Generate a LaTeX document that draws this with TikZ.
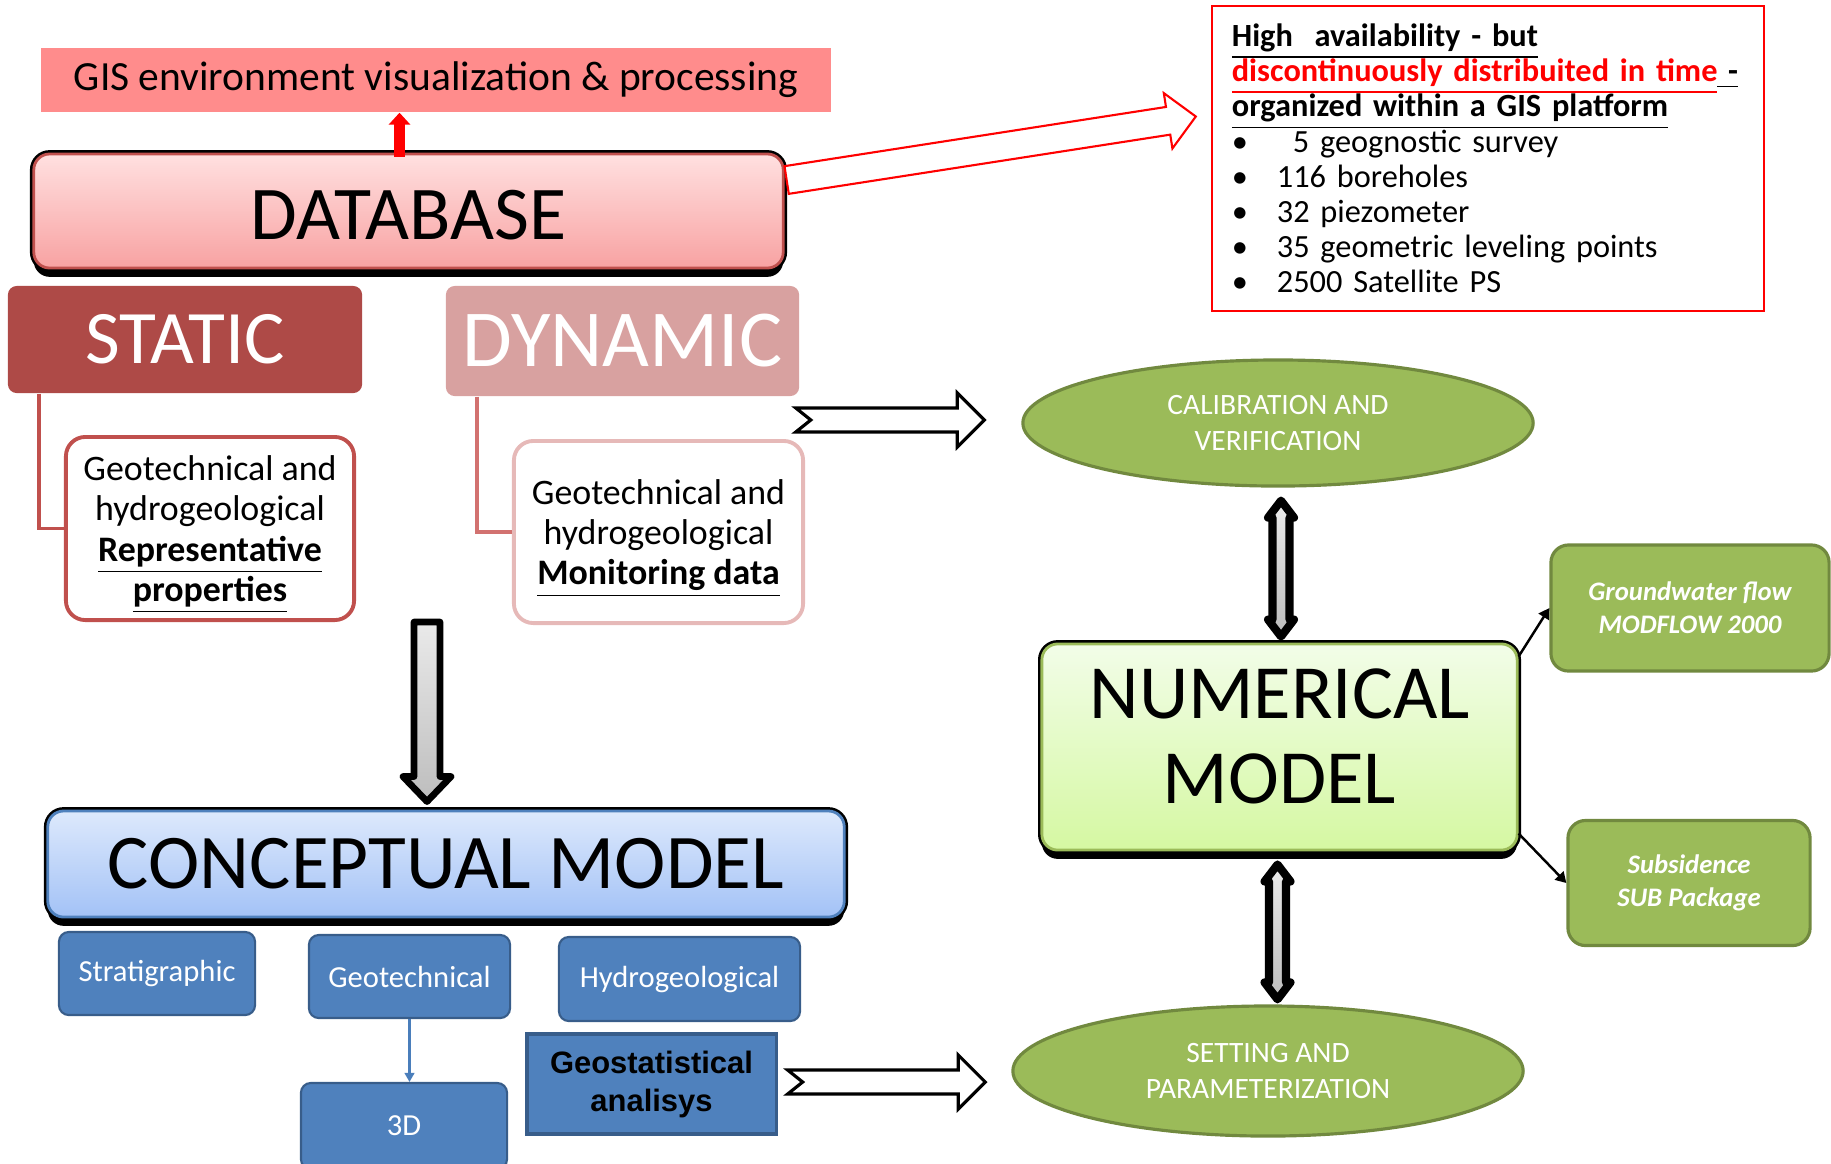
\documentclass[tikz,border=0pt]{standalone}
\usepackage{fontspec}
\setmainfont{Carlito}
\newfontfamily\arialfont{Liberation Sans}
\usetikzlibrary{calc,shapes.geometric,shadows,arrows.meta}

\definecolor{gisred}{HTML}{FF8C8C}
\definecolor{dbtop}{HTML}{FFE0E0}
\definecolor{dbbot}{HTML}{F8A2A2}
\definecolor{redline}{HTML}{C0504D}
\definecolor{staticred}{HTML}{AE4A47}
\definecolor{dynpink}{HTML}{D8A1A0}
\definecolor{dynline}{HTML}{D27270}
\definecolor{dynborder}{HTML}{E6B9B8}
\definecolor{cmtop}{HTML}{DDE9FC}
\definecolor{cmbot}{HTML}{A3C2F6}
\definecolor{cmline}{HTML}{4F81BD}
\definecolor{boxblue}{HTML}{4F81BD}
\definecolor{blueline}{HTML}{385D8A}
\definecolor{arrowblue}{HTML}{4A7EBB}
\definecolor{leaf}{HTML}{9BBB59}
\definecolor{leafline}{HTML}{71893F}
\definecolor{numtop}{HTML}{F2FDE8}
\definecolor{numbot}{HTML}{D5F8A2}
\definecolor{infored}{HTML}{FF0000}
\definecolor{greytop}{HTML}{EAEAEA}
\definecolor{greybot}{HTML}{BDBDBD}

\begin{document}
\begin{tikzpicture}[x=0.01cm,y=-0.01cm,
  gisbox/.style={fill=gisred,inner sep=0pt,minimum width=7.9cm,minimum height=0.64cm,font=\fontsize{11.8}{14}\selectfont},
  bigbox/.style={rounded corners=4.5pt,inner sep=0pt,line width=0.8pt,
    drop shadow={shadow xshift=0pt,shadow yshift=-2.5pt,fill=black,opacity=1},
    preaction={draw=black,line width=2.2pt}},
  headbox/.style={rounded corners=2.5pt,inner sep=0pt,text=white},
  propbox/.style={fill=white,line width=1.1pt,rounded corners=5.5pt,inner sep=0pt,align=center,text depth=0pt,font=\fontsize{10.2}{11.4}\selectfont},
  bluebox/.style={fill=boxblue,draw=blueline,line width=0.6pt,rounded corners=2.8pt,text=white,inner sep=0pt,font=\fontsize{8.7}{10.5}\selectfont},
  leafbox/.style={fill=leaf,draw=leafline,line width=0.9pt,rounded corners=5pt,text=white,inner sep=0pt,align=center,font=\fontsize{7.6}{9.3}\selectfont\bfseries\itshape},
  leafoval/.style={ellipse,fill=leaf,draw=leafline,line width=0.9pt,text=white,inner sep=0pt,align=center,font=\fontsize{8.4}{10}\selectfont},
  infobox/.style={draw=infored,line width=0.6pt,inner xsep=0.2cm,inner ysep=0pt,text width=5.12cm,minimum height=3.05cm,align=left,font=\fontsize{9.2}{10}\selectfont},
  stline/.style={draw=redline,line width=1.1pt},
  dyline/.style={draw=dynline,line width=1.1pt},
  thinarrow/.style={line width=0.7pt,-{Triangle[length=3pt,width=3.4pt]}},
  bluearrow/.style={arrowblue,line width=0.6pt,-{Triangle[length=2.6pt,width=2.8pt]}},
  gisarrow/.style={infored,line width=3.1pt,-{Triangle[length=3.4pt,width=6pt]}},
  redfat/.style={draw=infored,line width=0.6pt,fill=white},
  notched/.style={draw=black,line width=0.9pt,fill=white,
    to path={($(\tikztostart)+(0,-12)$) -- ($(\tikztotarget)+(-27,-12)$) -- ($(\tikztotarget)+(-27,-27)$) -- (\tikztotarget) -- ($(\tikztotarget)+(-27,27)$) -- ($(\tikztotarget)+(-27,12)$) -- ($(\tikztostart)+(0,12)$) -- ($(\tikztostart)+(15,0)$) -- cycle}},
  dblarrow/.style={draw=black,line width=2.3pt,line join=round,top color=greytop,bottom color=greybot,
    to path={(\tikztostart) -- ($(\tikztostart)+(13,17)$) -- ($(\tikztostart)+(8.5,17)$) -- ($(\tikztotarget)+(8.5,-17)$) -- ($(\tikztotarget)+(13,-17)$) -- (\tikztotarget) -- ($(\tikztotarget)+(-13,-17)$) -- ($(\tikztotarget)+(-8.5,-17)$) -- ($(\tikztostart)+(-8.5,17)$) -- ($(\tikztostart)+(-13,17)$) -- cycle}},
  downarrow/.style={draw=black,line width=1.9pt,line join=round,top color=greytop,bottom color=greybot,
    to path={($(\tikztostart)+(-13,0)$) -- ($(\tikztotarget)+(-13,-25)$) -- ($(\tikztotarget)+(-24,-25)$) -- (\tikztotarget) -- ($(\tikztotarget)+(24,-25)$) -- ($(\tikztotarget)+(13,-25)$) -- ($(\tikztostart)+(13,0)$) -- cycle}}]
  \useasboundingbox (0,0) rectangle (1831,1163);
  \clip (0,0) rectangle (1831,1163);

  % database side
  \node[gisbox] (gis) at (436,80) {GIS environment visualization \& processing};
  \node[bigbox,draw=redline,top color=dbtop,bottom color=dbbot,text height=16.5pt,minimum width=7.49cm,minimum height=1.14cm,font=\fontsize{21.6}{26}\selectfont] (db) at (408.5,211) {DATABASE};
  \node[headbox,fill=staticred,minimum width=3.54cm,minimum height=1.07cm,font=\fontsize{21.5}{26}\selectfont] (static) at (185,339.5) {STATIC};
  \node[headbox,fill=dynpink,minimum width=3.53cm,minimum height=1.10cm,font=\fontsize{23}{28}\selectfont] (dynamic) at (622.5,341) {DYNAMIC};
  \node[propbox,draw=redline,minimum width=2.88cm,minimum height=1.83cm] (stprop) at (210,528.5) {Geotechnical and\\hydrogeological\\\textbf{\underline{Representative}}\\\textbf{\underline{properties}}};
  \node[propbox,draw=dynborder,minimum width=2.89cm,minimum height=1.82cm] (dyprop) at (658.5,532) {Geotechnical and\\hydrogeological\\\textbf{\underline{Monitoring data}}};
  \node[infobox] (info) at (1488,158.5) {\setlength{\lineskiplimit}{-10pt}%
    \underline{\textbf{High\ \ availability - but}}\\
    \textcolor{infored}{\underline{\textbf{discontinuously distribuited in time}}}\underline{\textbf{\ -}}\\
    \underline{\textbf{organized within a GIS platform}}\\
    \makebox[0.61cm][l]{\textbullet}5 geognostic survey\\
    \makebox[0.45cm][l]{\textbullet}116 boreholes\\
    \makebox[0.45cm][l]{\textbullet}32 piezometer\\
    \makebox[0.45cm][l]{\textbullet}35 geometric leveling points\\
    \makebox[0.45cm][l]{\textbullet}2500 Satellite PS};

  % conceptual model
  \node[bigbox,draw=cmline,top color=cmtop,bottom color=cmbot,minimum width=7.96cm,minimum height=1.06cm,font=\fontsize{22}{26}\selectfont] (cm) at (446,864) {CONCEPTUAL MODEL};
  \node[bluebox,minimum width=1.96cm,minimum height=0.83cm] (strat) at (157,973.5) {Stratigraphic};
  \node[bluebox,minimum width=2.01cm,minimum height=0.83cm] (geot) at (409.5,976.5) {Geotechnical};
  \node[bluebox,minimum width=2.41cm,minimum height=0.84cm] (hydro) at (679.5,979) {Hydrogeological};
  \node[bluebox,minimum width=2.06cm,minimum height=0.86cm] (threeD) at (404,1126) {3D};
  \node[bluebox,sharp corners,line width=0.9pt,text=black,align=center,font=\arialfont\bfseries\fontsize{8.8}{10.8}\selectfont,minimum width=2.49cm,minimum height=1.00cm] (geostat) at (651.5,1084) {Geostatistical\\analisys};

  % numerical model
  \node[leafoval,minimum width=5.10cm,minimum height=1.26cm] (cal) at (1278,423) {CALIBRATION AND\\VERIFICATION};
  \node[leafoval,minimum width=5.10cm,minimum height=1.30cm] (set) at (1268,1071) {SETTING AND\\PARAMETERIZATION};
  \node[bigbox,draw=leaf,top color=numtop,bottom color=numbot,align=center,text depth=6pt,minimum width=4.75cm,minimum height=2.06cm,font=\fontsize{21.8}{24.2}\selectfont] (num) at (1279.5,747) {NUMERICAL\\MODEL};
  \node[leafbox,minimum width=2.78cm,minimum height=1.26cm] (gw) at (1690,608) {Groundwater flow\\MODFLOW 2000};
  \node[leafbox,minimum width=2.42cm,minimum height=1.25cm] (sub) at (1689,883) {Subsidence\\SUB Package};

  % connectors
  \coordinate (up) at ($(db.north)+(-9,4)$);
  \draw[gisarrow] (up) -- (up |- gis.south);
  \coordinate (rt) at ($(db.east)+(2,-31)$);
  \coordinate (rh) at ($(info.west)+(-15,-42)$);
  \coordinate (rb) at ($(rh)!0.28cm!(rt)$);
  \draw[redfat] ($(rt)!0.14cm!90:(rh)$) -- ($(rb)!0.14cm!90:(rh)$) -- ($(rb)!0.28cm!90:(rh)$) -- (rh) -- ($(rb)!0.28cm!-90:(rh)$) -- ($(rb)!0.14cm!-90:(rh)$) -- ($(rt)!0.14cm!-90:(rh)$) -- cycle;
  \draw[stline] ($(static.south west)+(32,0)$) |- (stprop.west);
  \draw[dyline] ($(dynamic.south west)+(32,0)$) |- (dyprop.west);

  \coordinate (dtop) at (427,622);
  \coordinate (dbot) at ($(dtop |- cm.north)+(0,-8)$);
  \draw[downarrow] (dtop) to (dbot);
  \draw[bluearrow] (geot.south) -- (geot.south |- threeD.north);

  \coordinate (dt) at ($(dynamic.south east |- cal.west)+(-4,-3)$);
  \coordinate (dh) at ($(dt -| cal.west)+(-37,0)$);
  \draw[notched] (dt) to (dh);
  \coordinate (gt) at ($(geostat.east)+(10,-2)$);
  \coordinate (gh) at ($(gt -| set.west)+(-26,0)$);
  \draw[notched] (gt) to (gh);

  \coordinate (ca) at ($(cal.south)+(3,13)$);
  \coordinate (cb) at ($(ca |- num.north)+(0,-6)$);
  \draw[dblarrow] (ca) to (cb);
  \coordinate (na) at ($(num.south)+(-2,13)$);
  \coordinate (nb) at ($(na |- set.north)+(0,-5)$);
  \draw[dblarrow] (na) to (nb);
  \draw[thinarrow] ($(num.north east)+(0,14)$) -- (gw.west);
  \draw[thinarrow] ($(num.south east)+(0,-18)$) -- (sub.west);
\end{tikzpicture}
\end{document}
